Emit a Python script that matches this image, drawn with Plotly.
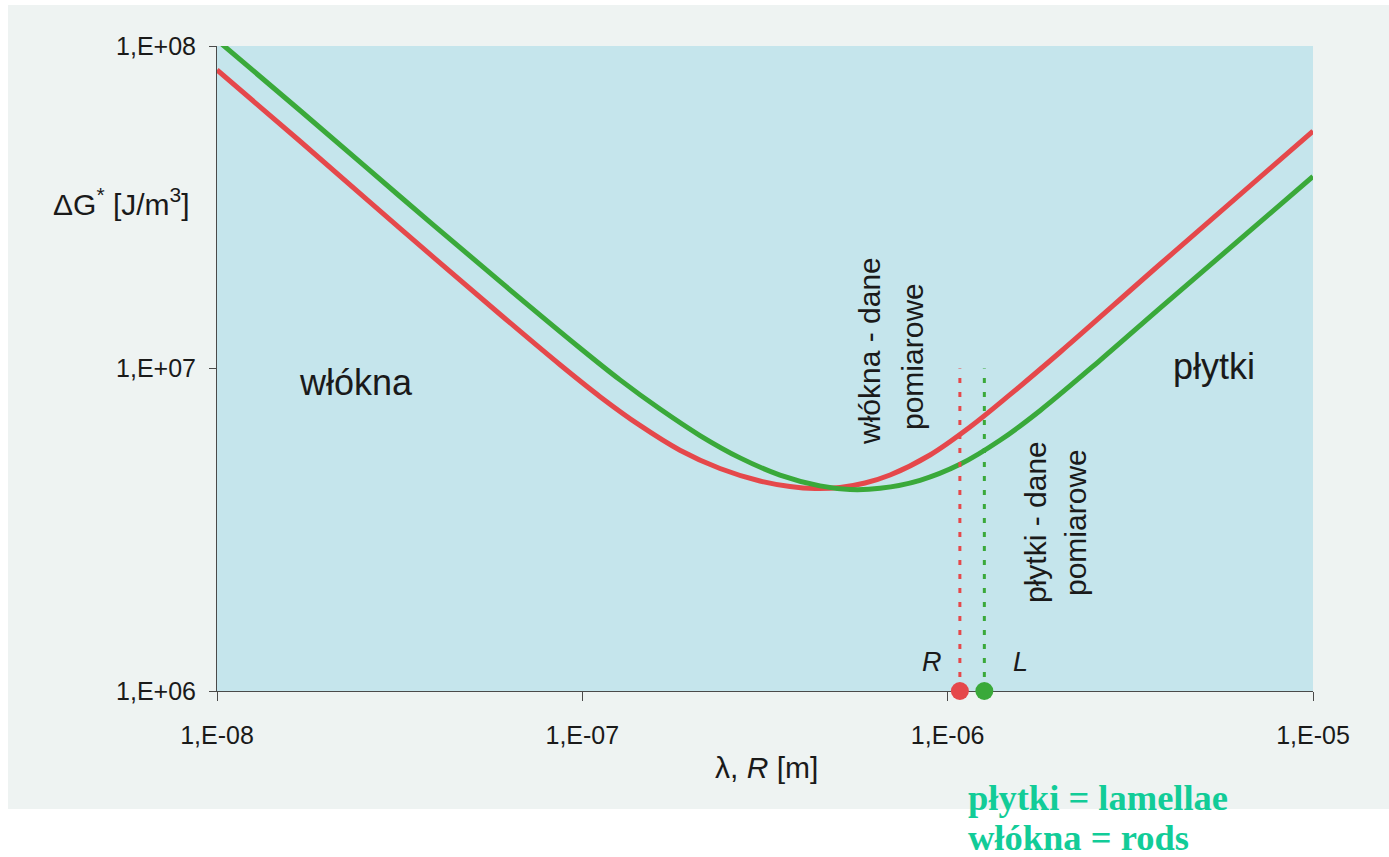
import plotly.graph_objects as go

# --- data -------------------------------------------------------------
# rods (włókna) curve: wavelength / radius [m] and ΔG* [J/m3]
rods_x = [1.0e-8, 1.688e-8, 3.17e-8, 5.95e-8, 8.69e-8, 1.118e-7, 1.438e-7, 1.85e-7,
          2.381e-7, 3.063e-7, 3.703e-7, 4.333e-7, 5.074e-7, 5.938e-7, 6.955e-7,
          8.948e-7, 1.151e-6, 1.481e-6, 2.03e-6, 3.813e-6, 1.0e-5]
rods_y = [8.43e7, 5.065e7, 2.72e7, 1.473e7, 1.027e7, 8.18e6, 6.66e6, 5.58e6,
          4.897e6, 4.479e6, 4.306e6, 4.245e6, 4.276e6, 4.416e6, 4.675e6,
          5.393e6, 6.585e6, 8.297e6, 1.123e7, 2.105e7, 5.447e7]

# lamellae (płytki) curve
lam_x = [1.0e-8, 1.688e-8, 3.17e-8, 5.95e-8, 9.85e-8, 1.268e-7, 1.632e-7, 2.099e-7,
         2.702e-7, 3.476e-7, 4.473e-7, 5.402e-7, 6.53e-7, 8.4e-7, 1.081e-6,
         1.391e-6, 1.789e-6, 2.612e-6, 3.813e-6, 1.0e-5]
lam_y = [1.044e8, 6.31e7, 3.415e7, 1.862e7, 1.158e7, 9.22e6, 7.485e6, 6.197e6,
         5.283e6, 4.672e6, 4.325e6, 4.215e6, 4.251e6, 4.501e6, 5.045e6,
         5.99e6, 7.399e6, 1.06e7, 1.539e7, 3.938e7]

# measured spacings: R (rods) and L (lamellae)
measured_x = [1.08e-6, 1.26e-6]
measured_names = ["R", "L"]
marker_level = 1.0e6
guide_top = 1.0e7

x_ticks = [1e-8, 1e-7, 1e-6, 1e-5]
x_tick_text = ["1,E-08", "1,E-07", "1,E-06", "1,E-05"]
y_ticks = [1e6, 1e7, 1e8]
y_tick_text = ["1,E+06", "1,E+07", "1,E+08"]

# --- styling ----------------------------------------------------------
RED = "#e5484b"
GREEN = "#3aa93a"
COLORS = [RED, GREEN]
TEXT = "#1a1a1a"
FONT = "Liberation Sans, Arial, sans-serif"
SERIF = "Liberation Serif, Times New Roman, serif"

W, H = 1389, 857
L_M, R_M, T_M, B_M = 217, 76, 46, 166
PW, PH = W - L_M - R_M, H - T_M - B_M


def px(x):
    return (x - L_M) / PW


def py(y):
    return (H - B_M - y) / PH


fig = go.Figure()

fig.add_trace(go.Scatter(x=rods_x, y=rods_y, mode="lines",
                         line=dict(color=RED, width=5, shape="spline", smoothing=1.0),
                         hoverinfo="skip", showlegend=False))
fig.add_trace(go.Scatter(x=lam_x, y=lam_y, mode="lines",
                         line=dict(color=GREEN, width=5, shape="spline", smoothing=1.0),
                         hoverinfo="skip", showlegend=False))

# dotted guides up from the measured values, with a dot sitting on the axis
for xv, col in zip(measured_x, COLORS):
    fig.add_trace(go.Scatter(x=[xv, xv], y=[marker_level, guide_top], mode="lines",
                             line=dict(color=col, width=3, dash="5px,9px"),
                             hoverinfo="skip", showlegend=False))
for xv, col in zip(measured_x, COLORS):
    fig.add_trace(go.Scatter(x=[xv], y=[marker_level], mode="markers",
                             marker=dict(color=col, size=18, symbol="circle",
                                         line=dict(width=0)),
                             cliponaxis=False, hoverinfo="skip", showlegend=False))

# light page panel and the tinted plotting area
fig.add_shape(type="rect", xref="paper", yref="paper",
              x0=px(8), x1=px(1389), y0=py(809), y1=py(5),
              fillcolor="#eef3f2", line=dict(width=0), layer="below")
fig.add_shape(type="rect", xref="paper", yref="paper",
              x0=0, x1=1, y0=0, y1=1,
              fillcolor="#c5e5ec", line=dict(width=0), layer="below")


def note(text, x, y, size, angle=0, xanchor="center", font=FONT, color=TEXT):
    fig.add_annotation(text=text, x=px(x), y=py(y), xref="paper", yref="paper",
                       showarrow=False, textangle=angle, xanchor=xanchor, yanchor="middle",
                       font=dict(family=font, size=size, color=color))


note("włókna", 356, 382, 36)
note("płytki", 1214, 366, 36)
note("włókna - dane", 870, 351, 30, angle=-90)
note("pomiarowe", 912, 357, 30, angle=-90)
note("płytki - dane", 1035, 522, 30, angle=-90)
note("pomiarowe", 1075, 523, 30, angle=-90)
for name, xpos in zip(measured_names, [932, 1020]):
    note(f"<i>{name}</i>", xpos, 662, 27)

note("ΔG<sup>*</sup> [J/m<sup>3</sup>]", 192, 202, 30, xanchor="right")
note("λ, <i>R</i> [m]", 766, 768, 30)

note("<b>płytki = lamellae</b>", 966, 797, 36.5, xanchor="left", font=SERIF, color="#12cc98")
note("<b>włókna = rods</b>", 966, 837, 36.5, xanchor="left", font=SERIF, color="#12cc98")

axis_common = dict(type="log", showgrid=False, zeroline=False, showline=True,
                   linecolor="#4a4a4a", linewidth=1, ticks="outside", tickcolor="#4a4a4a",
                   tickwidth=1, tickmode="array", layer="below traces",
                   tickfont=dict(family=FONT, size=25, color=TEXT))

# a hair of slack below 1E+06 keeps the axis dots inside the visible range
fig.update_xaxes(range=[-8, -5], tickvals=x_ticks, ticktext=x_tick_text,
                 ticklen=9, ticklabelstandoff=13, **axis_common)
fig.update_yaxes(range=[6 - 1e-6, 8], tickvals=y_ticks, ticktext=y_tick_text,
                 ticklen=7, ticklabelstandoff=8, **axis_common)

fig.update_layout(width=W, height=H, margin=dict(l=L_M, r=R_M, t=T_M, b=B_M),
                  paper_bgcolor="#ffffff", plot_bgcolor="#c5e5ec",
                  font=dict(family=FONT, color=TEXT))

fig.write_html("out.html")
